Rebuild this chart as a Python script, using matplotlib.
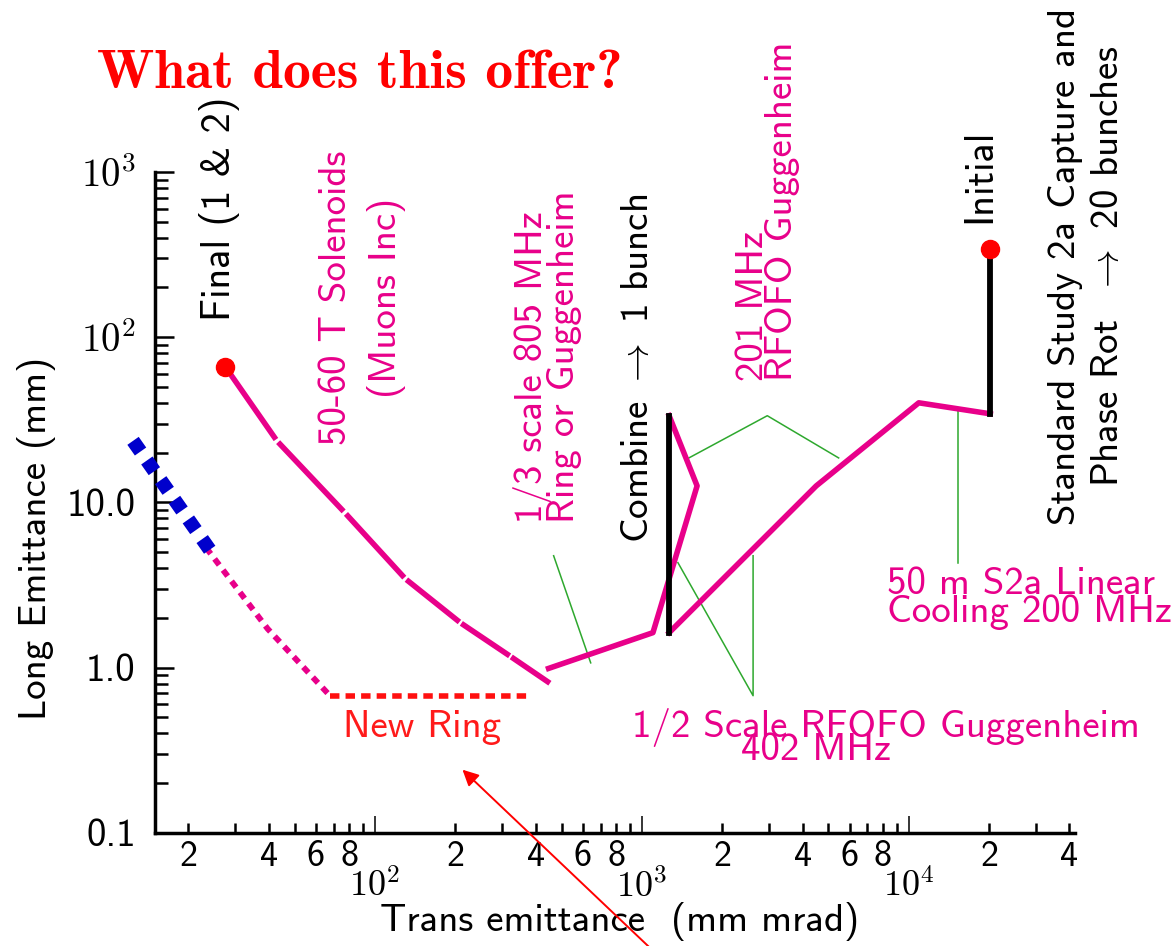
import numpy as np
import matplotlib
matplotlib.use("Agg")
import matplotlib.pyplot as plt
from matplotlib.ticker import FixedLocator, FixedFormatter

plt.rcParams["font.family"] = "cmss10"
plt.rcParams["mathtext.fontset"] = "cm"
plt.rcParams["axes.unicode_minus"] = False

MAGENTA = "#e8008a"
GREEN = "#2ea82e"

# trans emittance (mm mrad) / long emittance (mm)
cool_trans = [20200, 10900, 4500, 1265]
cool_long = [34.4, 40.1, 12.6, 1.63]
ring_trans = [1265, 1610, 1100, 447]
ring_long = [33.5, 12.6, 1.63, 0.99]
combine_trans = [1265, 1265]
combine_long = [1.63, 33.5]
initial_trans = [20200, 20200]
initial_long = [34.4, 342]
final_trans = [27.5, 42.9, 77.1, 130, 209, 322, 455]
final_long = [66.2, 23.6, 8.67, 3.45, 1.87, 1.17, 0.80]
newring_trans = [23.3, 39.6, 67.8]
newring_long = [5.32, 1.72, 0.677]
ringfloor_trans = [67.8, 376]
ringfloor_long = [0.677, 0.677]
blue_trans = [12.4, 24.6]
blue_long = [23.6, 4.9]

# leader lines from the labels to the curves
leaders = [
    ([467, 643], [4.76, 1.07]),
    ([1500, 2950, 5460], [18.6, 33.5, 18.6]),
    ([1365, 2610, 2610], [4.32, 0.677, 4.76]),
    ([15300, 15300], [37.4, 4.32]),
]

x_major = [100, 1000, 10000]
x_major_labels = ["$10^{2}$", "$10^{3}$", "$10^{4}$"]
y_major = [0.1, 1, 10, 100, 1000]
y_major_labels = ["0.1", "1.0", "10.0", "$10^{2}$", "$10^{3}$"]


def gapped_line(ax, xs, ys, gap=0.018, **kw):
    # each segment drawn on its own, trimmed a little at both ends
    lx, ly = np.log10(xs), np.log10(ys)
    for i in range(len(lx) - 1):
        t = np.array([gap, 1 - gap]) if i > 0 else np.array([0, 1 - gap])
        sx = lx[i] + t * (lx[i + 1] - lx[i])
        sy = ly[i] + t * (ly[i + 1] - ly[i])
        ax.plot(10 ** sx, 10 ** sy, solid_capstyle="butt", **kw)


fig = plt.figure(figsize=(11.75, 9.46), dpi=100)
ax = fig.add_axes([0.132, 0.1195, 0.783, 0.6987])
ax.set_xscale("log")
ax.set_yscale("log")
ax.set_xlim(15, 42000)
ax.set_ylim(0.1, 1000)

for xs, ys in leaders:
    ax.plot(xs, ys, color=GREEN, lw=1.1, zorder=2)

ax.plot(cool_trans, cool_long, color=MAGENTA, lw=4.0, zorder=3)
ax.plot(ring_trans, ring_long, color=MAGENTA, lw=4.0, zorder=3)
ax.plot(combine_trans, combine_long, color="black", lw=4.2, zorder=4)
ax.plot(initial_trans, initial_long, color="black", lw=4.2, zorder=4)
gapped_line(ax, final_trans, final_long, color=MAGENTA, lw=4.0, zorder=3)

ax.plot(newring_trans, newring_long, color=MAGENTA, lw=4.2,
        linestyle=(0, (1.3, 1.1)), dash_capstyle="butt", zorder=3)
ax.plot(ringfloor_trans, ringfloor_long, color="#ff1010", lw=4.0,
        linestyle=(0, (1.7, 1.1)), dash_capstyle="butt", zorder=3)
ax.plot(blue_trans, blue_long, color="#0000cc", lw=10,
        linestyle=(0, (0.94, 0.79)), dash_capstyle="butt", zorder=3,
        clip_on=False)

ax.plot(initial_trans[1], initial_long[1], "o", color="red", ms=13, zorder=5)
ax.plot(final_trans[0], final_long[0], "o", color="red", ms=13, zorder=5)

# axes: only left and bottom, ticks pointing inwards
for side in ("top", "right"):
    ax.spines[side].set_visible(False)
for side in ("left", "bottom"):
    ax.spines[side].set_linewidth(2.5)

minor_x = [k * 10 ** n for n in range(1, 5) for k in range(2, 10)
           if 15 <= k * 10 ** n <= 42000]
minor_x_labels = [str(v)[0] if str(v)[0] in "2468" else "" for v in minor_x]
ax.xaxis.set_major_locator(FixedLocator(x_major))
ax.xaxis.set_major_formatter(FixedFormatter(x_major_labels))
ax.xaxis.set_minor_locator(FixedLocator(minor_x))
ax.xaxis.set_minor_formatter(FixedFormatter(minor_x_labels))

minor_y = [k * 10.0 ** n for n in range(-1, 3) for k in range(2, 10)]
ax.yaxis.set_major_locator(FixedLocator(y_major))
ax.yaxis.set_major_formatter(FixedFormatter(y_major_labels))
ax.yaxis.set_minor_locator(FixedLocator(minor_y))
ax.yaxis.set_minor_formatter(FixedFormatter([""] * len(minor_y)))

ax.tick_params(axis="x", which="major", direction="in", length=12,
               width=1.1, pad=26, labelsize=26)
ax.tick_params(axis="x", which="minor", direction="in", length=7,
               width=1.8, pad=5, labelsize=26)
ax.tick_params(axis="y", which="major", direction="in", length=14,
               width=1.8, pad=14, labelsize=28)
ax.tick_params(axis="y", which="minor", direction="in", length=9,
               width=1.8)

ax.set_xlabel("Trans emittance  (mm mrad)", fontsize=28)
ax.xaxis.set_label_coords(0.505, -0.105)
ax.set_ylabel("Long Emittance (mm)", fontsize=28)
ax.yaxis.set_label_coords(-0.108, 0.446)

fig.text(0.0826, 0.921, "What does this offer?", family="cmb10",
         color="red", fontsize=40, va="center", ha="left")

lab = dict(rotation=90, ha="center", va="bottom", clip_on=False)
ax.text(26.1, 126, "Final (1 & 2)", color="black", fontsize=29, **lab)
ax.text(90, 173, "50-60 T Solenoids\n(Muons Inc)", color=MAGENTA,
        fontsize=28, rotation=90, ha="center", va="center",
        multialignment="center", linespacing=1.45)
ax.text(443, 7.5, "1/3 scale 805 MHz\nRing or Guggenheim", color=MAGENTA,
        fontsize=28, multialignment="left", linespacing=0.85, **lab)
ax.text(974, 5.7, "Combine $\\rightarrow$ 1 bunch", color="black",
        fontsize=28, **lab)
ax.text(2976, 54, "201 MHz\nRFOFO Guggenheim", color=MAGENTA, fontsize=28,
        multialignment="left", linespacing=0.78, **lab)
ax.text(18490, 490, "Initial", color="black", fontsize=29, **lab)
ax.text(46700, 267, "Standard Study 2a Capture and\n"
        "Phase Rot  $\\rightarrow$ 20 bunches", color="black", fontsize=28,
        rotation=90, ha="center", va="center", multialignment="center",
        linespacing=1.3, clip_on=False)
ax.text(8260, 2.61, "50 m S2a Linear\nCooling 200 MHz", color=MAGENTA,
        fontsize=28, ha="left", va="center", linespacing=0.72)
ax.text(8195, 0.434, "1/2 Scale RFOFO Guggenheim", color=MAGENTA,
        fontsize=28, ha="center", va="center")
ax.text(4508, 0.315, "402 MHz", color=MAGENTA, fontsize=28,
        ha="center", va="center")
ax.text(150, 0.434, "New Ring", color="#ff1a1a", fontsize=28,
        ha="center", va="center")

ax.annotate("", xy=(209, 0.248), xycoords="data",
            xytext=(0.56, -0.01), textcoords="figure fraction",
            arrowprops=dict(arrowstyle="-|>", color="red", lw=1.4,
                            mutation_scale=24),
            annotation_clip=False)

fig.savefig("out.png", dpi=100)
